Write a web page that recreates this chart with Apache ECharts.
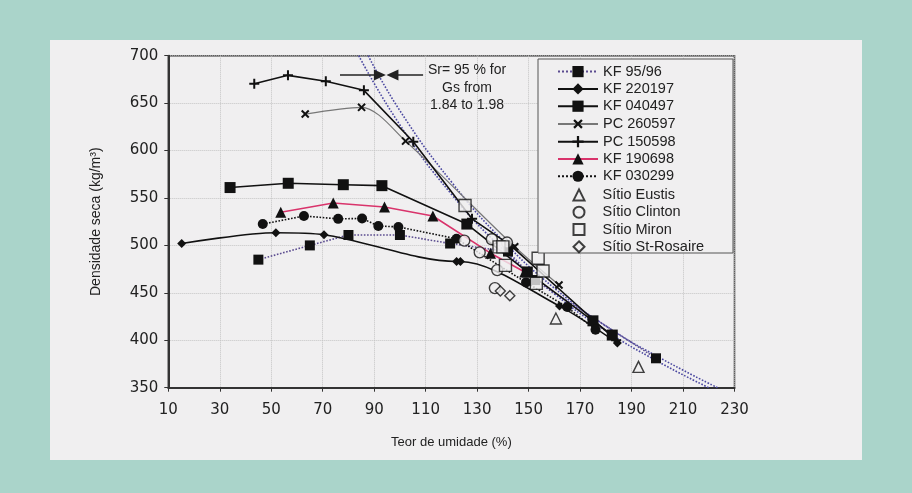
<!DOCTYPE html>
<html><head><meta charset="utf-8">
<script src="https://cdn.jsdelivr.net/npm/echarts@6/dist/echarts.min.js"></script>
<style>html,body{margin:0;padding:0;background:#aad4ca}#c{width:912px;height:493px}</style>
</head><body><div id="c"></div>
<script>
// ---- data (moisture %, dry density kg/m3) ----
const kf9596   = [[45,485],[65,500],[80,511],[100,511],[119.5,502],[142,493.5],[152.5,463.5],[199.5,381]];
const kf220197 = [[15.2,502],[51.8,513.4],[70.5,511.3],[122,483],[123.5,483],[162,436],[184.5,397]];
const kf040497 = [[34,561],[56.6,565.5],[78,564],[93,563],[126,522.5],[149.5,472],[175,420.5],[182.5,405.5]];
const pc260597 = [[63.2,638.5],[85.1,645.6],[102.2,610],[144.6,498.6],[161.8,458.3]];
const pc150598 = [[43.4,670.5],[56.5,679.3],[71.2,673],[86,663.5],[105.2,609.3],[128,528],[143,500],[184,400]];
const kf190698 = [[53.7,535],[74.1,544.7],[94,540.5],[112.8,531],[135.2,491.8],[148.5,472]];
const kf030299 = [[46.7,522.5],[62.7,531],[76,528],[85.3,528.4],[91.6,520.5],[99.4,519.5],[122,507],[149,461],[165,435],[176,411]];
const eustis   = [[160.6,423],[192.7,372]];
const clinton  = [[125,505],[131,492.7],[135.7,506.5],[141.6,503],[137.8,474],[136.9,455]];
const miron    = [[125.3,542],[138.5,498.5],[140,498.5],[141,479],[153.7,486.4],[155.6,473],[153,460]];
const rosaire  = [[139,452],[142.7,447]];
// Sr = 95 % curves (Gs 1.84 and 1.98)
const srLow  = [[84,700],[100,627],[120,554],[140,496],[160,449],[180,410],[200,378],[220,350]];
const srHigh = [[87.7,700],[100,642],[120,567],[140,505],[160,455],[180,415],[200,383],[223.4,350]];
const arrowY = 679.6;
const arrowLeft  = [76.7, 92.2];
const arrowRight = [109, 97.1];
const xMin=10, xMax=230, xStep=20, yMin=350, yMax=700, yStep=50;
const lineNames = ['KF 95/96','KF 220197','KF 040497','PC 260597','PC 150598','KF 190698','KF 030299'];
const siteNames = ['Sítio Eustis','Sítio Clinton','Sítio Miron','Sítio St-Rosaire'];

const BG = '#f0eff0';
const plus = 'path://M4,0H6V4H10V6H6V10H4V6H0V4H4Z';
function lineSeries(name,data,opt){
  return Object.assign({name,type:'line',data,symbolSize:9,
    itemStyle:{color:'#111'},lineStyle:{color:'#111',width:1.6},z:3},opt);
}
function openSeries(name,data,symbol,size){
  return {name,type:'scatter',data,symbol,symbolSize:size,
    itemStyle:{color:BG,borderColor:'#111',borderWidth:1.4},z:4};
}
const legendText = {fontFamily:'Liberation Sans',fontSize:14.5,color:'#222',lineHeight:14};
const chart = echarts.init(document.getElementById('c'));
chart.setOption({
  backgroundColor:'#aad4ca',
  animation:false,
  graphic:[
    {type:'rect',z:-10,shape:{x:50,y:40,width:812,height:420},style:{fill:BG}},
    {type:'rect',z:10,shape:{x:538,y:59,width:195,height:194},style:{fill:BG,stroke:'#555',lineWidth:1}},
    {type:'text',z:10,style:{x:467,y:70,text:'Sr= 95 % for',fill:'#222',font:'14px "Liberation Sans"',align:'center',verticalAlign:'middle'}},
    {type:'text',z:10,style:{x:467,y:88,text:'Gs from',fill:'#222',font:'14px "Liberation Sans"',align:'center',verticalAlign:'middle'}},
    {type:'text',z:10,style:{x:467,y:105,text:'1.84 to 1.98',fill:'#222',font:'14px "Liberation Sans"',align:'center',verticalAlign:'middle'}}
  ],
  grid:{left:168.3,right:177.5,top:55.7,bottom:105.3,show:true,borderColor:'#333',borderWidth:1.5,backgroundColor:'transparent'},
  xAxis:{type:'value',min:xMin,max:xMax,interval:xStep,
    name:'Teor de umidade (%)',nameLocation:'middle',nameGap:48,
    nameTextStyle:{fontFamily:'Liberation Sans',fontSize:13,color:'#222'},
    axisLine:{lineStyle:{color:'#333',width:2}},
    axisTick:{show:true,length:4,lineStyle:{color:'#333'}},
    splitLine:{show:true,lineStyle:{type:'dotted',color:'#c4c4c4'}},
    axisLabel:{fontFamily:'DejaVu Sans',fontSize:15,color:'#222',margin:15}},
  yAxis:{type:'value',min:yMin,max:yMax,interval:yStep,
    name:'Densidade seca (kg/m³)',nameLocation:'middle',nameGap:65,nameRotate:90,
    nameTextStyle:{fontFamily:'Liberation Sans',fontSize:14,color:'#222'},
    axisLine:{show:true,lineStyle:{color:'#333',width:2}},
    axisTick:{show:true,length:4,lineStyle:{color:'#333'}},
    splitLine:{show:true,lineStyle:{type:'dotted',color:'#c4c4c4'}},
    axisLabel:{fontFamily:'DejaVu Sans',fontSize:15,color:'#222',margin:10}},
  legend:[
    {orient:'vertical',left:552,top:59.1,itemWidth:40,itemHeight:14,itemGap:2.3,z:20,
      data:lineNames,textStyle:legendText},
    {orient:'vertical',left:567.5,top:182.4,itemWidth:11,itemHeight:11,itemGap:2.3,z:20,
      data:siteNames,textStyle:Object.assign({padding:[0,0,0,13]},legendText)}
  ],
  series:[
    {type:'line',name:'srLow',data:srLow,smooth:true,showSymbol:false,lineStyle:{color:'#4a47a0',width:1.6,type:'dotted'},z:2,silent:true},
    {type:'line',name:'srHigh',data:srHigh,smooth:true,showSymbol:false,lineStyle:{color:'#4a47a0',width:1.6,type:'dotted'},z:2,silent:true,
      markLine:{silent:true,symbol:['none','triangle'],symbolSize:[11,12],label:{show:false},
        lineStyle:{color:'#222',width:1.5,type:'solid'},
        data:[[{coord:[arrowLeft[0],arrowY]},{coord:[arrowLeft[1],arrowY]}],
              [{coord:[arrowRight[0],arrowY]},{coord:[arrowRight[1],arrowY]}]]}},
    lineSeries(lineNames[0],kf9596,{symbol:'rect',symbolSize:10,lineStyle:{color:'#5a4b8f',width:1.6,type:'dotted'}}),
    lineSeries(lineNames[1],kf220197,{symbol:'diamond',symbolSize:9,smooth:0.3}),
    lineSeries(lineNames[2],kf040497,{symbol:'rect',symbolSize:11}),
    lineSeries(lineNames[3],pc260597,{symbol:plus,symbolRotate:45,symbolSize:10,smooth:0.3,lineStyle:{color:'#777',width:1.2}}),
    lineSeries(lineNames[4],pc150598,{symbol:plus,symbolSize:10}),
    lineSeries(lineNames[5],kf190698,{symbol:'triangle',symbolSize:11,lineStyle:{color:'#d9336b',width:1.6}}),
    lineSeries(lineNames[6],kf030299,{symbol:'circle',symbolSize:10,lineStyle:{color:'#111',width:1.6,type:'dotted'}}),
    openSeries(siteNames[0],eustis,'triangle',11),
    openSeries(siteNames[1],clinton,'circle',11),
    openSeries(siteNames[2],miron,'rect',12),
    openSeries(siteNames[3],rosaire,'diamond',10)
  ]
});
</script></body></html>
